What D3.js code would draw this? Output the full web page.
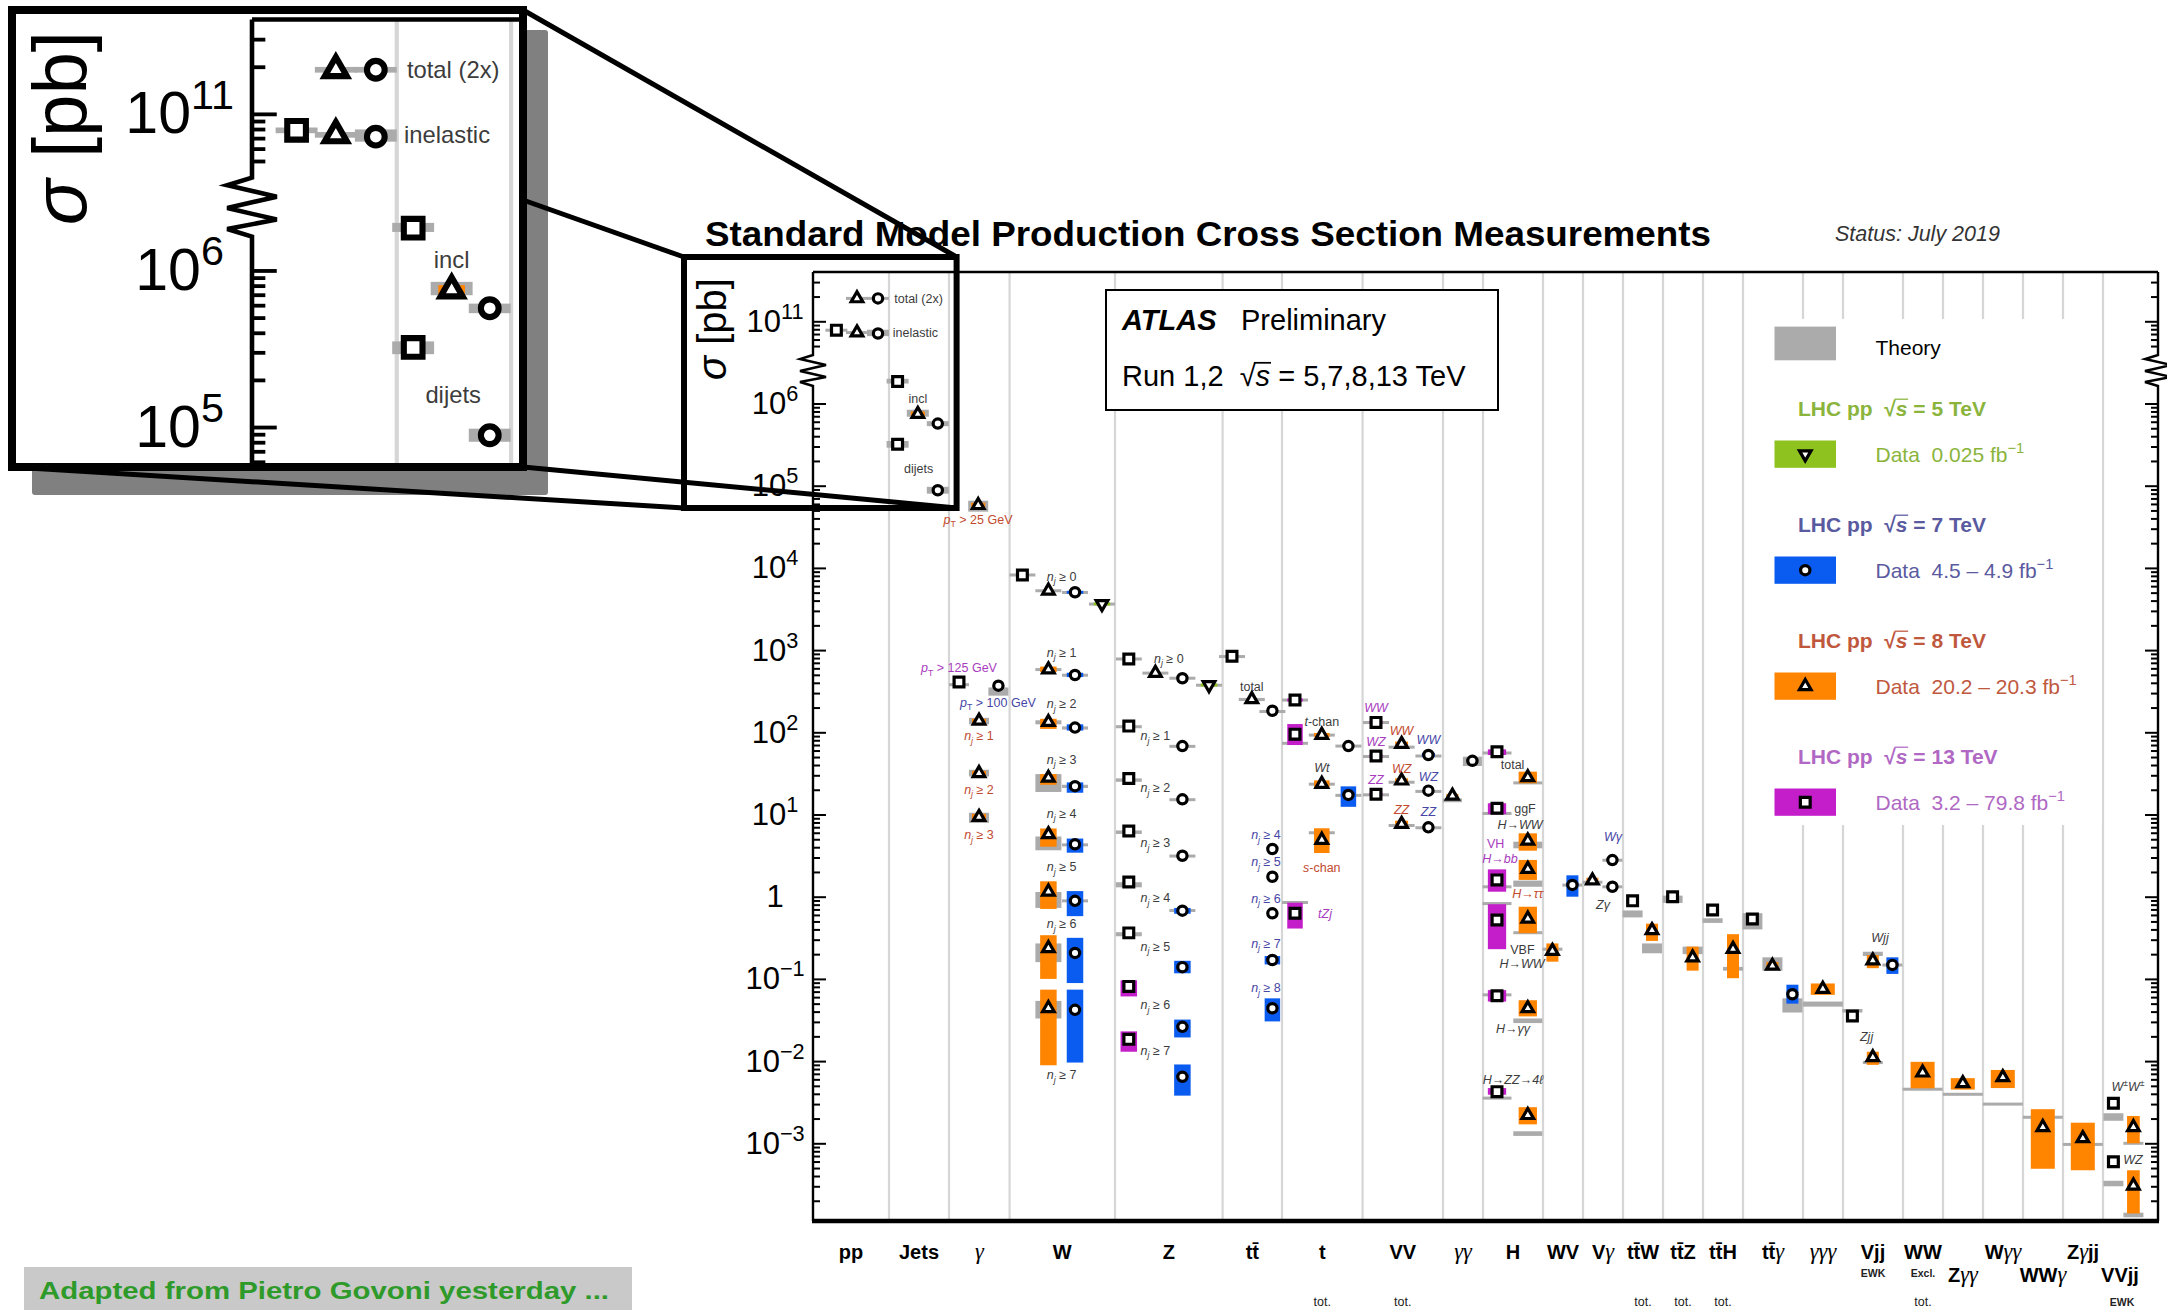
<!DOCTYPE html>
<html>
<head>
<meta charset="utf-8">
<script src="https://cdn.jsdelivr.net/npm/d3@7"></script>
<style>
  html, body { margin: 0; background: #fff; }
  svg { display: block; }
  text { font-family: "Liberation Sans", Arial, Helvetica, sans-serif; white-space: pre; }
</style>
</head>
<body>
<svg id="chart" width="2167" height="1310"></svg>
<script>
// ---------------------------------------------------------------
// Categories along the x axis. Positions are expressed in "slots"
// (one slot = one marker position); edges separate the columns.
// ---------------------------------------------------------------
const categories = ["pp","Jets","γ","W","Z","tt̄","t","VV","γγ","H","WV","Vγ",
  "tt̄W","tt̄Z","tt̄H","tt̄γ","γγγ","Vjj","WW","Zγγ","Wγγ","WWγ","Zγjj","VVjj"];
const categoryEdges = [0, 3.8, 6.8, 9.83, 15.1, 20.48, 23.45, 27.48, 31.5, 33.5, 36.5, 38.5,
  40.5, 42.5, 44.5, 46.5, 49.5, 51.5, 54.5, 56.5, 58.5, 60.5, 62.5, 64.5, 67.25];
const categoryLabels = ["pp","Jets","~*γ*~","W","Z","tt\u0304","t","VV","~*γγ*~","H","WV","V~*γ*~",
  "tt\u0304W","tt\u0304Z","tt\u0304H","tt\u0304~*γ*~","~*γγγ*~","Vjj","WW","Z~*γγ*~","W~*γγ*~","WW~*γ*~","Z~*γ*~jj","VVjj"];
const categoryNotes = [[],[],[],[],[],[],["tot."],["tot."],[],[],[],[],
  ["tot."],["tot."],["tot."],[],[],["EWK"],["Excl.","tot."],[],[],[],[],["EWK"]];

// y axis tick labels
const yLabelValues = [1e11, 1e6, 1e5, 1e4, 1e3, 1e2, 1e1, 1, 1e-1, 1e-2, 1e-3];
const yLabelTexts = ["10^{11}","10^{6}","10^{5}","10^{4}","10^{3}","10^{2}","10^{1}","1","10^{−1}","10^{−2}","10^{−3}"];

// ---------------------------------------------------------------
// Measurements: [slot, σ (pb), data low, data high, theory low, theory high]
// ---------------------------------------------------------------
const xs13 = [
  [1.17, 7.8e10, null, null, 7.5e10, 8.1e10],
  [4.23, 1.85e6, null, null, 1.75e6, 2.0e6],
  [4.23, 3.2e5, null, null, 2.9e5, 3.5e5],
  [7.3, 409, null, null, 365, 395],
  [10.47, 8200, null, null, 8000, 8400],
  [15.79, 780, null, null, 760, 800],
  [15.79, 119, null, null, 112, 122],
  [15.79, 27.4, null, null, 25, 27.5],
  [15.79, 6.3, null, null, 5.8, 6.4],
  [15.79, 1.51, null, null, 1.3, 1.5],
  [15.79, 0.363, null, null, 0.33, 0.37],
  [15.79, 0.081, 0.0612, 0.096, null, null],
  [15.79, 0.0184, 0.013, 0.023, null, null],
  [20.95, 840, null, null, 800, 870],
  [24.1, 247, 243, 251, 238, 256],
  [24.1, 95, 70, 126, 71, 76],
  [24.1, 0.628, 0.41, 0.845, 0.82, 0.88],
  [28.15, 132, 129, 135, 127, 136],
  [28.15, 51.5, 50, 53, 49, 52.5],
  [28.15, 17.6, 17.1, 18.1, 16.8, 17.9],
  [34.2, 58, 53, 62, 55, 57],
  [34.2, 11.9, 10.1, 13.7, 10, 10.6],
  [34.2, 1.6, 1.15, 2.15, 1.28, 1.36],
  [34.2, 0.52, 0.23, 0.81, 0.8, 0.85],
  [34.2, 0.0625, 0.053, 0.073, 0.062, 0.066],
  [34.2, 0.00425, 0.0039, 0.0047, 0.0034, 0.0037],
  [40.98, 0.89, 0.86, 0.9, 0.56, 0.68],
  [42.98, 1.0, null, null, 0.84, 1.03],
  [44.98, 0.69, 0.66, 0.7, 0.48, 0.546],
  [46.97, 0.536, null, null, 0.4, 0.63],
  [51.97, 0.0354, 0.0345, 0.036, 0.039, 0.043],
  [65.02, 0.00307, null, null, 0.00188, 0.00232],
  [65.02, 0.000597, 0.00058, 0.00061, 0.0003, 0.00035]
];

const xs8 = [
  [2.2, 1.9e11, null, null, 1.87e11, 1.93e11],
  [2.2, 7.3e10, null, null, 7.1e10, 7.5e10],
  [5.24, 7.45e5, 7.0e5, 8.0e5, 6.9e5, 8.4e5],
  [8.26, 5.8e4, 5.4e4, 6.2e4, 4.83e4, 6.57e4],
  [8.3, 138, 130, 146, 125, 150],
  [8.3, 31.8, 30, 34, 29, 35],
  [8.3, 9.3, 8.5, 10.2, 7.9, 10.5],
  [11.77, 5280, null, null, 5100, 5450],
  [11.77, 580, 540, 630, 560, 600],
  [11.77, 133, 110, 146, 125, 140],
  [11.77, 27.9, 23, 31, 18.8, 31],
  [11.77, 5.74, 4.06, 6.76, 3.67, 5.4],
  [11.77, 1.15, 0.71, 1.54, 0.73, 1.14],
  [11.77, 0.236, 0.1, 0.34, 0.16, 0.27],
  [11.77, 0.044, 0.0089, 0.074, 0.033, 0.054],
  [17.12, 527, null, null, 510, 540],
  [21.94, 252, null, null, 240, 262],
  [25.44, 92.7, 88, 98, 90, 95],
  [25.44, 23.5, 21.5, 26, 22.8, 24],
  [25.44, 4.9, 3.4, 6.8, 5.8, 6.2],
  [29.43, 72, 67, 77, 64, 68],
  [29.43, 25.8, 24, 27.5, 24.2, 25.2],
  [29.43, 7.66, 7.0, 8.4, 7.2, 7.5],
  [31.97, 16.9, 16, 17.8, 14.1, 15.7],
  [35.74, 28.3, 24, 33.2, 23.5, 25],
  [35.74, 4.8, 3.63, 5.9, 3.88, 4.67],
  [35.74, 2.17, 1.6, 2.8, 1.32, 1.57],
  [35.74, 0.54, 0.36, 0.755, 0.35, 0.38],
  [35.74, 0.0438, 0.035, 0.055, 0.029, 0.033],
  [35.74, 0.0022, 0.0017, 0.00275, 0.00123, 0.0014],
  [36.97, 0.218, 0.162, 0.27, 0.22, 0.24],
  [38.97, 1.57, 1.45, 1.7, 1.45, 1.55],
  [41.95, 0.39, 0.29, 0.47, 0.205, 0.27],
  [43.98, 0.182, 0.126, 0.247, 0.2, 0.247],
  [46.0, 0.231, 0.102, 0.35, 0.126, 0.14],
  [47.97, 0.144, 0.13, 0.16, 0.126, 0.183],
  [50.49, 0.0754, 0.064, 0.088, 0.046, 0.053],
  [52.99, 0.167, 0.135, 0.195, 0.19, 0.214],
  [52.99, 0.0111, 0.009, 0.013, 0.0093, 0.0099],
  [55.48, 0.00723, 0.00467, 0.0098, 0.0044, 0.0047],
  [57.49, 0.00537, 0.0045, 0.0062, 0.0038, 0.0041],
  [59.49, 0.00635, 0.0047, 0.0078, 0.0029, 0.0031],
  [61.49, 0.00157, 0.00049, 0.0026, 0.002, 0.00215],
  [63.49, 0.00115, 0.00047, 0.00178, 0.00094, 0.001],
  [66.02, 0.00157, 0.001, 0.00215, 0.00097, 0.00103],
  [66.02, 0.000305, 0.00014, 0.00047, 0.000126, 0.000143]
];

const xs7 = [
  [3.25, 1.9e11, null, null, 1.87e11, 1.93e11],
  [3.25, 7.1e10, null, null, 6.6e10, 7.9e10],
  [6.24, 5.7e5, null, null, 5.3e5, 6.1e5],
  [6.24, 8.8e4, null, null, 8.0e4, 9.7e4],
  [9.27, 369, null, null, 279, 351],
  [13.1, 5050, 4900, 5200, 4900, 5150],
  [13.1, 498, 470, 530, 480, 510],
  [13.1, 114, 105, 125, 108, 118],
  [13.1, 22.1, 18.4, 24.6, 21, 23],
  [13.1, 4.34, 3.43, 5.1, 4.1, 4.45],
  [13.1, 0.89, 0.58, 1.17, 0.86, 0.92],
  [13.1, 0.207, 0.089, 0.316, null, null],
  [13.1, 0.042, 0.0096, 0.074, null, null],
  [18.47, 454, null, null, 445, 465],
  [18.47, 68, null, null, 65, 70],
  [18.47, 15.3, null, null, 14.6, 15.7],
  [18.47, 3.15, null, null, 3.0, 3.25],
  [18.47, 0.676, 0.62, 0.73, 0.66, 0.70],
  [18.47, 0.139, 0.117, 0.166, null, null],
  [18.47, 0.0261, 0.0194, 0.032, null, null],
  [18.47, 0.00644, 0.0038, 0.0091, null, null],
  [22.97, 183, null, null, 172, 186],
  [22.97, 3.8, null, null, null, null],
  [22.97, 1.75, null, null, null, null],
  [22.97, 0.628, null, null, null, null],
  [22.97, 0.17, 0.15, 0.19, null, null],
  [22.97, 0.044, 0.0304, 0.058, null, null],
  [26.77, 68, null, null, 66, 70],
  [26.77, 17.3, 12.4, 22, 16.6, 17.6],
  [30.77, 53, 50, 56, 50, 53],
  [30.77, 19.5, null, null, 18.6, 19.6],
  [30.77, 6.98, null, null, 6.7, 7.1],
  [32.97, 45, null, null, 38.9, 50.5],
  [37.97, 1.39, 1.0, 1.82, 1.35, 1.42],
  [39.97, 2.79, null, null, 2.7, 2.86],
  [39.97, 1.32, null, null, 1.28, 1.36],
  [48.97, 0.065, 0.05, 0.085, 0.039, 0.058],
  [53.97, 0.148, 0.115, 0.183, 0.145, 0.15]
];

const xs5 = [
  [14.45, 3640, 3600, 3680, 3560, 3700],
  [19.8, 376, 372, 380, 366, 382]
];

// Annotations: [text (markup), slot, σ, group]
const annotations = [
  ["total (2x)", 5.28, 1.9e11, "n"],
  ["inelastic", 5.12, 7.3e10, "n"],
  ["incl", 5.24, 1.16e6, "n"],
  ["dijets", 5.28, 1.6e5, "n"],
  ["*p*_T > 25 GeV", 8.25, 3.9e4, "8"],
  ["*p*_T > 125 GeV", 7.3, 607, "13"],
  ["*p*_T > 100 GeV", 9.25, 231, "7"],
  ["*n_j* ≥ 1", 8.3, 91, "8"],
  ["*n_j* ≥ 2", 8.3, 20.3, "8"],
  ["*n_j* ≥ 3", 8.3, 5.64, "8"],
  ["*n_j* ≥ 0", 12.43, 7970, "n"],
  ["*n_j* ≥ 1", 12.43, 940, "n"],
  ["*n_j* ≥ 2", 12.43, 223, "n"],
  ["*n_j* ≥ 3", 12.43, 47.3, "n"],
  ["*n_j* ≥ 4", 12.43, 10.3, "n"],
  ["*n_j* ≥ 5", 12.43, 2.3, "n"],
  ["*n_j* ≥ 6", 12.43, 0.466, "n"],
  ["*n_j* ≥ 7", 12.43, 0.00678, "n"],
  ["*n_j* ≥ 0", 17.79, 794, "n"],
  ["*n_j* ≥ 1", 17.12, 91, "n"],
  ["*n_j* ≥ 2", 17.12, 21.3, "n"],
  ["*n_j* ≥ 3", 17.12, 4.52, "n"],
  ["*n_j* ≥ 4", 17.12, 0.977, "n"],
  ["*n_j* ≥ 5", 17.12, 0.248, "n"],
  ["*n_j* ≥ 6", 17.12, 0.0486, "n"],
  ["*n_j* ≥ 7", 17.12, 0.0136, "n"],
  ["total", 21.94, 359, "n"],
  ["*n_j* ≥ 4", 22.65, 5.64, "7"],
  ["*n_j* ≥ 5", 22.65, 2.67, "7"],
  ["*n_j* ≥ 6", 22.65, 0.957, "7"],
  ["*n_j* ≥ 7", 22.65, 0.271, "7"],
  ["*n_j* ≥ 8", 22.65, 0.0785, "7"],
  ["*t*-chan", 25.44, 137, "n"],
  ["*Wt*", 25.44, 37.5, "n"],
  ["*s*-chan", 25.44, 2.28, "8"],
  ["*tZj*", 25.6, 0.628, "13"],
  ["*WW*", 28.15, 201, "13"],
  ["*WZ*", 28.15, 77, "13"],
  ["*ZZ*", 28.15, 26.8, "13"],
  ["*WW*", 29.43, 105, "8"],
  ["*WZ*", 29.43, 36.5, "8"],
  ["*ZZ*", 29.43, 11.4, "8"],
  ["*WW*", 30.77, 80.6, "7"],
  ["*WZ*", 30.77, 29.4, "7"],
  ["*ZZ*", 30.77, 10.8, "7"],
  ["total", 34.98, 41.1, "n"],
  ["ggF", 35.6, 11.7, "n"],
  ["*H→WW*", 35.35, 7.66, "n"],
  ["VH", 34.13, 4.46, "13"],
  ["*H→bb*", 34.35, 2.93, "13"],
  ["*H→ττ*", 35.74, 1.1, "8"],
  ["VBF", 35.47, 0.231, "n"],
  ["*H→WW*", 35.45, 0.155, "n"],
  ["*H→γγ*", 35.0, 0.025, "n"],
  ["*H→ZZ→4ℓ*", 35.0, 0.00589, "n"],
  ["*Wγ*", 40.0, 5.47, "7"],
  ["*Zγ*", 39.5, 0.815, "n"],
  ["*Wjj*", 53.35, 0.32, "n"],
  ["*Zjj*", 52.68, 0.0198, "n"],
  ["*W^±W^±*", 65.75, 0.00489, "n"],
  ["*WZ*", 66.0, 0.000638, "n"]
];

// Legend texts
const legendHeads = ["LHC pp  √*s* = 5 TeV", "LHC pp  √*s* = 7 TeV", "LHC pp  √*s* = 8 TeV", "LHC pp  √*s* = 13 TeV"];
const legendData = ["Data  0.025 fb^{−1}", "Data  4.5 – 4.9 fb^{−1}", "Data  20.2 – 20.3 fb^{−1}", "Data  3.2 – 79.8 fb^{−1}"];
const footerText = "Adapted from Pietro Govoni yesterday ...";

// ---------------------------------------------------------------
// Layout and styles
// ---------------------------------------------------------------
const P = { left: 813, right: 2158, top: 272, bottom: 1221 };
const COLORS = {
  theory: "#ababab", grid: "#d6d6d6",
  e5: "#8dc21f", e7: "#0a5cf0", e8: "#ff8400", e13: "#c41ecb",
  t5: "#8ab43c", t7: "#5a5aa0", t8: "#c0583e", t13: "#b068c4",
  a7: "#4646a6", a8: "#c24a2e", a13: "#a83cbe", an: "#3c3c3c"
};
const SERIF = "'Liberation Serif', 'Times New Roman', serif";
// widths (px) of data and theory boxes for each category
const dataWidth   = [14,14,14,16.5,16.5,15.5,15.5,13,12,18.3,12,12,12,12,12,12,24,12,24,24,24,24,24,12.7];
const theoryWidth = [22,22,20,26,26,26,26,26,19,29,20,20,20,20,20,20,40,20,40,40,40,40,40,20];
const lowerRow = new Set(["Zγγ","WWγ","VVjj"]);
const MARK_STROKE = 3.2;

const svg = d3.select("#chart");
const x = d3.scaleLinear().domain([0, 67.25]).range([P.left, P.right]);
const y = d3.scaleLog().domain([1e-3, 1e6]).range([1143.3, 403.5]);
// values above the axis break are shown compressed by four decades
const BREAK_FACTOR = 1e4;
const yv = v => v > 1e8 ? y(v / BREAK_FACTOR) : y(v);
const yUpper = d3.scaleLog().domain([1e10, 1e11]).range([y(1e6), y(1e7)]);

// simple markup: *italic*, ~serif~, _x / _{..} subscript, ^x / ^{..} superscript
function rich(textSel, str, fs) {
  const segs = [];
  let it = false, serif = false, buf = "", i = 0;
  const push = (t, sh) => { if (t) segs.push({ t, it, serif, sh }); };
  while (i < str.length) {
    const c = str[i];
    if (c === "*") { push(buf, 0); buf = ""; it = !it; i++; continue; }
    if (c === "~") { push(buf, 0); buf = ""; serif = !serif; i++; continue; }
    if (c === "_" || c === "^") {
      push(buf, 0); buf = "";
      let arg;
      if (str[i + 1] === "{") { const j = str.indexOf("}", i); arg = str.slice(i + 2, j); i = j + 1; }
      else { arg = str[i + 1]; i += 2; }
      push(arg, c === "_" ? 1 : -1);
      continue;
    }
    buf += c; i++;
  }
  push(buf, 0);
  let cur = 0;
  segs.forEach(s => {
    const off = s.sh === 1 ? 0.28 * fs : s.sh === -1 ? -0.42 * fs : 0;
    const ts = textSel.append("tspan").text(s.t);
    if (s.it) ts.attr("font-style", "italic");
    if (s.serif) ts.attr("font-family", SERIF).attr("font-weight", "normal").attr("font-size", 1.12 * fs);
    if (s.sh) ts.attr("font-size", 0.7 * fs);
    if (off - cur !== 0) ts.attr("dy", off - cur);
    cur = off;
  });
  return textSel;
}

// bar over the radicand following a "√"
function radicalBar(parent, textSel, fs, color) {
  const node = textSel.node();
  const s = node.textContent;
  const i = s.indexOf("√");
  if (i < 0) return;
  const a = node.getExtentOfChar(i), b = node.getExtentOfChar(i + 1);
  const base = +textSel.attr("y");
  const yb = base - 0.80 * fs;
  parent.append("line")
    .attr("x1", a.x + a.width - 0.06 * fs).attr("x2", b.x + b.width + 0.03 * fs)
    .attr("y1", yb).attr("y2", yb)
    .attr("stroke", color).attr("stroke-width", Math.max(1.2, 0.06 * fs));
}

// ---------------------------------------------------------------
// Main plot group (re-used for the magnified inset)
// ---------------------------------------------------------------
const plot = svg.append("g").attr("id", "plot");

// column separators
plot.append("g").selectAll("line")
  .data(categoryEdges.slice(1, -1))
  .join("line")
  .attr("x1", d => x(d)).attr("x2", d => x(d))
  .attr("y1", P.top).attr("y2", P.bottom)
  .attr("stroke", COLORS.grid).attr("stroke-width", 2.2);

// ATLAS label box
const atlas = plot.append("g");
atlas.append("rect").attr("x", 1106).attr("y", 290).attr("width", 392).attr("height", 120)
  .attr("fill", "#fff").attr("stroke", "#000").attr("stroke-width", 2);
atlas.append("text").attr("x", 1122).attr("y", 330).attr("font-size", 29)
  .attr("font-weight", "bold").attr("font-style", "italic").text("ATLAS");
atlas.append("text").attr("x", 1241).attr("y", 330).attr("font-size", 29).text("Preliminary");
const runT = atlas.append("text").attr("x", 1122).attr("y", 386).attr("font-size", 29);
rich(runT, "Run 1,2  √*s* = 5,7,8,13 TeV", 29);

// legend panel
const leg = plot.append("g");
leg.append("rect").attr("x", 1748).attr("y", 319).attr("width", 354).attr("height", 506).attr("fill", "#fff");
leg.append("rect").attr("x", 1774.5).attr("y", 326.6).attr("width", 61.5).attr("height", 33.7).attr("fill", COLORS.theory);
leg.append("text").attr("x", 1875.5).attr("y", 355).attr("font-size", 21).text("Theory");

// axis frame, ticks and break
const zig = [[0, 0], [-13, 4], [13, 10], [-13, 16], [13, 22], [-13, 27], [0, 31]];
const zigTop = 355;
function axisPath(x0) {
  const p = d3.path();
  p.moveTo(x0, P.top); p.lineTo(x0, zigTop);
  zig.forEach(([dx, dy]) => p.lineTo(x0 + dx, zigTop + dy));
  p.lineTo(x0, P.bottom);
  return p.toString();
}
const frame = plot.append("g").attr("fill", "none").attr("stroke", "#000");
frame.append("path").attr("d", axisPath(P.left)).attr("stroke-width", 2.4);
frame.append("path").attr("d", axisPath(P.right)).attr("stroke-width", 2.4);
frame.append("line").attr("x1", P.left).attr("x2", P.right).attr("y1", P.top).attr("y2", P.top).attr("stroke-width", 2.4);
frame.append("line").attr("x1", P.left - 1).attr("x2", P.right + 1).attr("y1", P.bottom).attr("y2", P.bottom).attr("stroke-width", 4.5);

const yMajor = d3.range(-3, 7).map(k => +(`1e${k}`));
const yMinor = [];
for (let k = -4; k <= 5; k++) for (let m = 2; m <= 9; m++) {
  const v = +(`${m}e${k}`);
  if (v >= 2e-4 && v < 1e6) yMinor.push(v);
}
const upMajor = [1e11];
const upMinor = [5e10, 6e10, 7e10, 8e10, 9e10, 2e11, 3e11];

function tickSet(axisFn, scale, values, size, x0) {
  plot.append("g").attr("transform", `translate(${x0},0)`)
    .call(axisFn(scale).tickValues(values).tickSize(size).tickFormat(""))
    .call(g => g.select(".domain").remove())
    .call(g => g.selectAll("line").attr("stroke", "#000").attr("stroke-width", 2));
}
tickSet(d3.axisRight, y, yMajor, 13, P.left);
tickSet(d3.axisRight, y, yMinor, 7, P.left);
tickSet(d3.axisRight, yUpper, upMajor, 13, P.left);
tickSet(d3.axisRight, yUpper, upMinor, 7, P.left);
tickSet(d3.axisLeft, y, yMajor, 13, P.right);
tickSet(d3.axisLeft, y, yMinor, 7, P.right);
tickSet(d3.axisLeft, yUpper, upMajor, 13, P.right);
tickSet(d3.axisLeft, yUpper, upMinor, 7, P.right);

// y tick labels
yLabelValues.forEach((v, i) => {
  const t = plot.append("text").attr("x", 775).attr("y", yv(v) + 10.5)
    .attr("text-anchor", "middle").attr("font-size", 31).attr("font-family", SERIF);
  rich(t, yLabelTexts[i], 31);
});
// y axis title
const yt = plot.append("text").attr("transform", "translate(726,329) rotate(-90)")
  .attr("text-anchor", "middle").attr("font-size", 40).attr("font-family", SERIF);
rich(yt, "*σ* [pb]", 40);

// category labels below the axis
const catCenter = i => x((categoryEdges[i] + categoryEdges[i + 1]) / 2);
const catG = plot.append("g");
categories.forEach((c, i) => {
  const cx = c === "VVjj" ? 2120 : catCenter(i);
  const t = catG.append("text").attr("x", cx).attr("y", lowerRow.has(c) ? 1282 : 1259)
    .attr("text-anchor", "middle").attr("font-size", 20).attr("font-weight", "bold");
  rich(t, categoryLabels[i], 20);
  categoryNotes[i].forEach(n => {
    const row2 = n === "tot." || lowerRow.has(c);
    catG.append("text").attr("x", c === "VVjj" ? 2122 : cx).attr("y", row2 ? 1306 : 1277)
      .attr("text-anchor", "middle")
      .attr("font-size", n === "tot." ? 12.5 : 10.5)
      .attr("font-weight", n === "tot." ? null : "bold")
      .attr("fill", "#222").text(n);
  });
});

// ---------------------------------------------------------------
// Measurement marks
// ---------------------------------------------------------------
const catIndex = s => Math.max(0, d3.bisectRight(categoryEdges, s) - 1);
const series = [
  { data: xs5,  color: COLORS.e5,  sym: d3.symbolTriangle, size: 58, rot: 180 },
  { data: xs7,  color: COLORS.e7,  sym: d3.symbolCircle,   size: 68, rot: 0 },
  { data: xs8,  color: COLORS.e8,  sym: d3.symbolTriangle, size: 58, rot: 0 },
  { data: xs13, color: COLORS.e13, sym: d3.symbolSquare,   size: 96, rot: 0 }
];
function bandRect(g, s, lo, hi, w, fill) {
  let y1 = yv(hi), y2 = yv(lo);
  if (y2 - y1 < 3) { const m = (y1 + y2) / 2; y1 = m - 1.5; y2 = m + 1.5; }
  g.append("rect").attr("x", x(s) - w / 2).attr("y", y1).attr("width", w).attr("height", y2 - y1).attr("fill", fill);
}
const theoryG = plot.append("g"), dataG = plot.append("g"), markG = plot.append("g");
series.forEach(sr => {
  sr.data.forEach(([s, v, dlo, dhi, tlo, thi]) => {
    const ci = catIndex(s);
    if (tlo != null) bandRect(theoryG, s, tlo, thi, theoryWidth[ci], COLORS.theory);
    if (dlo != null) bandRect(dataG, s, dlo, dhi, dataWidth[ci], sr.color);
  });
  markG.selectAll(null).data(sr.data).join("path")
    .attr("d", d3.symbol().type(sr.sym).size(sr.size))
    .attr("transform", d => `translate(${x(d[0])},${yv(d[1])}) rotate(${sr.rot})`)
    .attr("fill", "#fff").attr("stroke", "#000").attr("stroke-width", MARK_STROKE);
});

// annotations
const annColor = { n: COLORS.an, "7": COLORS.a7, "8": COLORS.a8, "13": COLORS.a13 };
annotations.forEach(([txt, s, v, grp]) => {
  const t = plot.append("text").attr("x", x(s)).attr("y", yv(v) + 4.5)
    .attr("text-anchor", "middle").attr("font-size", 12.5).attr("fill", annColor[grp]);
  rich(t, txt, 12.5);
});

// legend entries
const legFill = [COLORS.e5, COLORS.e7, COLORS.e8, COLORS.e13];
const legText = [COLORS.t5, COLORS.t7, COLORS.t8, COLORS.t13];
legendHeads.forEach((h, i) => {
  const yb = 416 + i * 116;
  const ht = leg.append("text").attr("x", 1798).attr("y", yb).attr("font-size", 21)
    .attr("font-weight", "bold").attr("fill", legText[i]);
  rich(ht, h, 21);
  radicalBar(leg, ht, 21, legText[i]);
  leg.append("rect").attr("x", 1774.5).attr("y", yb + 24.5).attr("width", 61.5).attr("height", 27.3).attr("fill", legFill[i]);
  leg.append("path").attr("d", d3.symbol().type(series[i].sym).size(series[i].size))
    .attr("transform", `translate(1805.25,${yb + 38.2}) rotate(${series[i].rot})`)
    .attr("fill", "#fff").attr("stroke", "#000").attr("stroke-width", MARK_STROKE);
  const dt = leg.append("text").attr("x", 1875.5).attr("y", yb + 46).attr("font-size", 21).attr("fill", legText[i]);
  rich(dt, legendData[i], 21);
});
radicalBar(atlas, runT, 29, "#000");

// ---------------------------------------------------------------
// Title
// ---------------------------------------------------------------
svg.append("text").attr("x", 705).attr("y", 246).attr("font-size", 35).attr("font-weight", "bold")
  .attr("textLength", 1006).attr("lengthAdjust", "spacingAndGlyphs")
  .text("Standard Model Production Cross Section Measurements");
svg.append("text").attr("x", 1835).attr("y", 241).attr("font-size", 21.5).attr("font-style", "italic")
  .attr("fill", "#333").text("Status: July 2019");

// ---------------------------------------------------------------
// Magnified inset of the high cross-section corner
// ---------------------------------------------------------------
const inset = { x0: 12, y0: 10, x1: 523, y1: 467 };
const box = { x0: 684, y0: 257, x1: 956.6, y1: 508 };
const MAG = 1.905;
svg.append("defs").append("clipPath").attr("id", "insetClip")
  .append("rect").attr("x", inset.x0).attr("y", inset.y0)
  .attr("width", inset.x1 - inset.x0).attr("height", inset.y1 - inset.y0);
svg.append("rect").attr("x", 32).attr("y", 30).attr("width", 516).attr("height", 465)
  .attr("rx", 3).attr("fill", "#808080");
svg.append("rect").attr("x", inset.x0).attr("y", inset.y0)
  .attr("width", inset.x1 - inset.x0).attr("height", inset.y1 - inset.y0).attr("fill", "#fff");
svg.append("g").attr("clip-path", "url(#insetClip)")
  .append("use").attr("href", "#plot")
  .attr("transform", `translate(${252 - MAG * P.left},${270 - MAG * y(1e6)}) scale(${MAG})`);
svg.append("rect").attr("x", inset.x0).attr("y", inset.y0)
  .attr("width", inset.x1 - inset.x0).attr("height", inset.y1 - inset.y0)
  .attr("fill", "none").attr("stroke", "#000").attr("stroke-width", 8);
const links = [
  [inset.x1, inset.y0, box.x1, box.y0],
  [inset.x1, 200, box.x0, box.y0],
  [inset.x1, inset.y1, box.x1, box.y1],
  [inset.x0, inset.y1, box.x0, box.y1]
];
svg.append("g").selectAll("line").data(links).join("line")
  .attr("x1", d => d[0]).attr("y1", d => d[1]).attr("x2", d => d[2]).attr("y2", d => d[3])
  .attr("stroke", "#000").attr("stroke-width", 5);
svg.append("rect").attr("x", box.x0).attr("y", box.y0)
  .attr("width", box.x1 - box.x0).attr("height", box.y1 - box.y0)
  .attr("fill", "none").attr("stroke", "#000").attr("stroke-width", 6);

// footer note
svg.append("rect").attr("x", 24).attr("y", 1267).attr("width", 608).attr("height", 43).attr("fill", "#c9c9c9");
svg.append("text").attr("x", 39).attr("y", 1299).attr("font-size", 24.5).attr("font-weight", "bold")
  .attr("fill", "#2e9a2a").attr("textLength", 570).attr("lengthAdjust", "spacingAndGlyphs")
  .text(footerText);
</script>
</body>
</html>
